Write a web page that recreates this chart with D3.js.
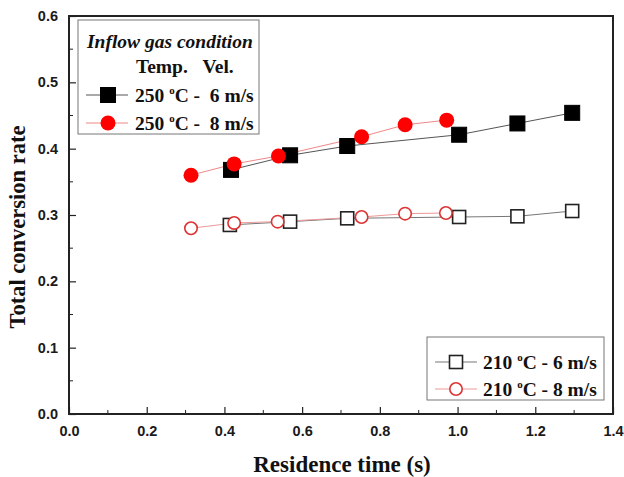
<!DOCTYPE html>
<html><head><meta charset="utf-8">
<script src="https://cdn.jsdelivr.net/npm/d3@7"></script>
<style>body{margin:0;background:#fff}svg{display:block}</style>
</head><body>
<svg id="c" width="624" height="477"></svg>
<script>
const xTicks = [0.0, 0.2, 0.4, 0.6, 0.8, 1.0, 1.2, 1.4];
const yTicks = [0.0, 0.1, 0.2, 0.3, 0.4, 0.5, 0.6];

const t250v6 = [0.417, 0.569, 0.716, 1.004, 1.154, 1.295];
const c250v6 = [0.368, 0.390, 0.404, 0.421, 0.438, 0.454];
const t250v8 = [0.314, 0.425, 0.539, 0.753, 0.865, 0.972];
const c250v8 = [0.360, 0.377, 0.389, 0.418, 0.436, 0.443];
const t210v6 = [0.414, 0.569, 0.716, 1.004, 1.154, 1.295];
const c210v6 = [0.285, 0.290, 0.295, 0.297, 0.298, 0.306];
const t210v8 = [0.314, 0.425, 0.537, 0.753, 0.865, 0.970];
const c210v8 = [0.280, 0.288, 0.290, 0.297, 0.302, 0.303];

const svg = d3.select("#c");
const L = 69, R = 613, T = 16, B = 414;
const x = d3.scaleLinear().domain([0, 1.4]).range([L, R]);
const y = d3.scaleLinear().domain([0, 0.6]).range([B, T]);

// minor ticks
svg.append("g").selectAll("line").data(d3.range(1, 14, 2).map(i => i / 10)).join("line")
  .attr("x1", d => x(d)).attr("x2", d => x(d)).attr("y1", B).attr("y2", B - 4)
  .attr("stroke", "#222").attr("stroke-width", 1);
svg.append("g").selectAll("line").data(d3.range(1, 12, 2).map(i => i / 20)).join("line")
  .attr("y1", d => y(d)).attr("y2", d => y(d)).attr("x1", L).attr("x2", L + 4)
  .attr("stroke", "#222").attr("stroke-width", 1);

const xAxis = d3.axisBottom(x).tickValues(xTicks).tickFormat(d3.format(".1f")).tickSizeInner(-7).tickSizeOuter(0).tickPadding(12);
const yAxis = d3.axisLeft(y).tickValues(yTicks).tickFormat(d3.format(".1f")).tickSizeInner(-7).tickSizeOuter(0).tickPadding(11);
const gx = svg.append("g").attr("transform", `translate(0,${B})`).call(xAxis);
const gy = svg.append("g").attr("transform", `translate(${L},0)`).call(yAxis);
[gx, gy].forEach(g => {
  g.select(".domain").remove();
  g.selectAll(".tick line").attr("stroke", "#222").attr("stroke-width", 1.2);
  g.selectAll(".tick text").attr("fill", "#1a1a1a").style("font-family", "'Liberation Sans', Arial, sans-serif")
    .style("font-weight", "bold").style("font-size", "14.5px");
});

// frame
svg.append("rect").attr("x", L).attr("y", T).attr("width", R - L).attr("height", B - T)
  .attr("fill", "none").attr("stroke", "#222").attr("stroke-width", 2);

const line = d3.line().x(d => x(d[0])).y(d => y(d[1]));
const series = [
  {t: t250v6, c: c250v6, lc: "#555", shape: "sq", fill: "#000", stroke: "#000", sz: 15},
  {t: t250v8, c: c250v8, lc: "#e88", shape: "ci", fill: "#f00", stroke: "#f00", sz: 15},
  {t: t210v6, c: c210v6, lc: "#777", shape: "sq", fill: "#fff", stroke: "#222", sz: 13},
  {t: t210v8, c: c210v8, lc: "#e99", shape: "ci", fill: "#fff", stroke: "#d33", sz: 14}
];
function drawMarker(g, s, cx, cy) {
  if (s.shape === "sq") {
    g.append("rect").attr("x", cx - s.sz / 2).attr("y", cy - s.sz / 2).attr("width", s.sz).attr("height", s.sz)
      .attr("fill", s.fill).attr("stroke", s.stroke).attr("stroke-width", s.fill === "#fff" ? 1.6 : 1);
  } else {
    g.append("circle").attr("cx", cx).attr("cy", cy).attr("r", s.sz / 2 - (s.fill === "#fff" ? 0.8 : 0))
      .attr("fill", s.fill).attr("stroke", s.stroke).attr("stroke-width", s.fill === "#fff" ? 1.6 : 0);
  }
}
const drawOrder = [2, 3, 0, 1];
drawOrder.forEach(i => {
  const s = series[i];
  const pts = s.t.map((v, k) => [v, s.c[k]]);
  svg.append("path").attr("d", line(pts)).attr("fill", "none").attr("stroke", s.lc).attr("stroke-width", 1);
});
drawOrder.forEach(i => {
  const s = series[i];
  const g = svg.append("g");
  s.t.forEach((v, k) => drawMarker(g, s, x(v), y(s.c[k])));
});

const serif = "'Liberation Serif', 'Times New Roman', serif";
function legText(g, xx, yy, temp, vel) {
  const t = g.append("text").attr("x", xx).attr("y", yy).attr("font-family", serif)
    .attr("font-weight", "bold").attr("font-size", "19.5px").attr("fill", "#111");
  t.append("tspan").text(temp + " ");
  t.append("tspan").text("o").attr("font-size", "11px").attr("dy", -8);
  t.append("tspan").text("C - " + vel).attr("dy", 8);
}

// legend 1
const lg1 = svg.append("g");
lg1.append("rect").attr("x", 78).attr("y", 20).attr("width", 181).attr("height", 114)
  .attr("fill", "#fff").attr("stroke", "#777").attr("stroke-width", 1);
lg1.append("text").attr("x", 87).attr("y", 48).text("Inflow gas condition").attr("font-family", serif)
  .attr("font-weight", "bold").attr("font-style", "italic").attr("font-size", "19.5px").attr("fill", "#111");
lg1.append("text").attr("x", 136).attr("y", 73).text("Temp.\u00a0\u00a0\u00a0Vel.").attr("font-family", serif)
  .attr("font-weight", "bold").attr("font-size", "19.5px").attr("fill", "#111");
[[0, 95, "250", "\u00a06 m/s"], [1, 123, "250", "\u00a08 m/s"]].forEach(([i, yy, tp, v]) => {
  const s = series[i];
  lg1.append("line").attr("x1", 86).attr("x2", 128).attr("y1", yy).attr("y2", yy).attr("stroke", s.lc).attr("stroke-width", 1);
  drawMarker(lg1, s, 108, yy);
  legText(lg1, 135, yy + 7, tp, v);
});

// legend 2
const lg2 = svg.append("g");
lg2.append("rect").attr("x", 427).attr("y", 337).attr("width", 177).attr("height", 63)
  .attr("fill", "#fff").attr("stroke", "#777").attr("stroke-width", 1);
[[2, 362, "210", "6 m/s"], [3, 389, "210", "8 m/s"]].forEach(([i, yy, tp, v]) => {
  const s = series[i];
  lg2.append("line").attr("x1", 435).attr("x2", 477).attr("y1", yy).attr("y2", yy).attr("stroke", s.lc).attr("stroke-width", 1);
  drawMarker(lg2, s, 456, yy);
  legText(lg2, 483, yy + 7, tp, v);
});

// axis titles
svg.append("text").attr("x", (L + R) / 2 + 1).attr("y", 472).attr("text-anchor", "middle")
  .attr("font-family", serif).attr("font-weight", "bold").attr("font-size", "23px").attr("fill", "#111")
  .text("Residence time (s)");
svg.append("text").attr("transform", `translate(25,${(T + B) / 2 + 12}) rotate(-90)`).attr("text-anchor", "middle")
  .attr("font-family", serif).attr("font-weight", "bold").attr("font-size", "22.5px").attr("fill", "#111")
  .text("Total conversion rate");
</script>
</body></html>
